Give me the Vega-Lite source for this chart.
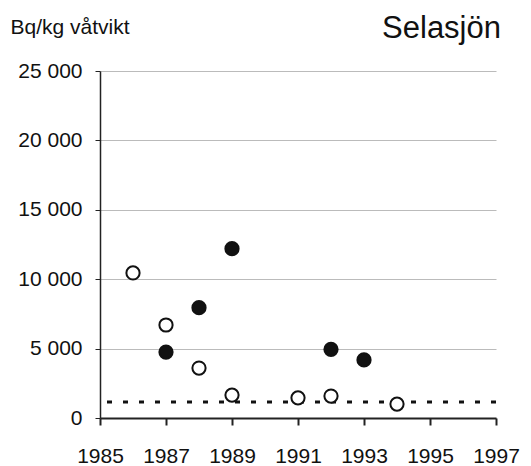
{
  "$schema": "https://vega.github.io/schema/vega-lite/v6.json",
  "width": 396,
  "height": 347,
  "autosize": "none",
  "padding": {"left": 100, "top": 71, "right": 35, "bottom": 48},
  "background": "white",
  "config": {
    "font": "Liberation Sans",
    "view": {"stroke": null},
    "axis": {"labelFont": "Liberation Sans", "titleFont": "Liberation Sans"}
  },
  "title": {
    "text": "Selasjön",
    "anchor": "end",
    "frame": "group",
    "baseline": "alphabetic",
    "fontSize": 31,
    "fontWeight": "normal",
    "font": "Liberation Sans",
    "color": "#111",
    "offset": 0,
    "dy": 53,
    "dx": 5
  },
  "layer": [
    {
      "data": {"values": [{"limit": 1150}]},
      "mark": {"type": "rule", "strokeDash": [5, 11], "strokeWidth": 3, "color": "#111"},
      "encoding": {"y": {"field": "limit", "type": "quantitative", "scale": {"domain": [0, 25000]}}}
    },
    {
      "data": {
        "values": [
          {"year": 1986, "value": 10450, "type": "open"},
          {"year": 1987, "value": 6700, "type": "open"},
          {"year": 1987, "value": 4750, "type": "filled"},
          {"year": 1988, "value": 7950, "type": "filled"},
          {"year": 1988, "value": 3600, "type": "open"},
          {"year": 1989, "value": 12200, "type": "filled"},
          {"year": 1989, "value": 1650, "type": "open"},
          {"year": 1991, "value": 1450, "type": "open"},
          {"year": 1992, "value": 1580, "type": "open"},
          {"year": 1992, "value": 4950, "type": "filled"},
          {"year": 1993, "value": 4180, "type": "filled"},
          {"year": 1994, "value": 1000, "type": "open"}
        ]
      },
      "mark": {"type": "point", "shape": "circle", "size": 175, "strokeWidth": 2, "stroke": "#111", "filled": true, "opacity": 1},
      "encoding": {
        "x": {
          "field": "year", "type": "quantitative",
          "scale": {"domain": [1985, 1997], "nice": false, "zero": false},
          "axis": {
            "values": [1985, 1987, 1989, 1991, 1993, 1995, 1997],
            "format": "d",
            "title": null,
            "grid": false,
            "domainColor": "#222",
            "domainWidth": 2,
            "tickColor": "#222",
            "tickWidth": 2,
            "tickSize": 7,
            "labelFontSize": 21,
            "labelColor": "#111",
            "labelPadding": 20,
            "labelFlush": false
          }
        },
        "y": {
          "field": "value", "type": "quantitative",
          "scale": {"domain": [0, 25000], "nice": false},
          "axis": {
            "values": [0, 5000, 10000, 15000, 20000, 25000],
            "labelExpr": "replace(format(datum.value, ','), ',', ' ')",
            "title": "Bq/kg våtvikt",
            "titleAngle": 0,
            "titleAlign": "left",
            "titleBaseline": "alphabetic",
            "titleX": -90,
            "titleY": -38,
            "titleFontSize": 21,
            "titleFontWeight": "normal",
            "titleColor": "#111",
            "grid": true,
            "gridColor": "#bbb",
            "gridWidth": 1,
            "domainColor": "#222",
            "domainWidth": 1.5,
            "tickColor": "#222",
            "tickSize": 5,
            "labelFontSize": 21,
            "labelColor": "#111",
            "labelPadding": 13
          }
        },
        "fill": {
          "field": "type", "type": "nominal",
          "scale": {"domain": ["filled", "open"], "range": ["#111", "#ffffff"]},
          "legend": null
        }
      }
    }
  ]
}
